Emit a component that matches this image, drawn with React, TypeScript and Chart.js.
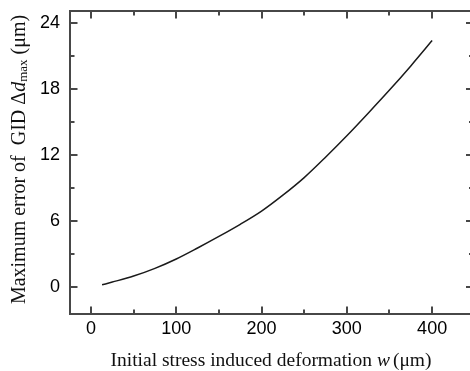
import React, { useEffect, useRef } from 'react';
import { Chart, registerables } from 'chart.js';

Chart.register(...registerables);

// Data
const wValues = [13, 25, 50, 75, 100, 125, 150, 175, 200, 225, 250, 275, 300, 325, 350, 375, 400];
const errorValues = [0.2, 0.45, 1.0, 1.7, 2.55, 3.55, 4.6, 5.7, 6.9, 8.35, 9.95, 11.8, 13.75, 15.8, 17.9, 20.1, 22.4];

const xTicks = [0, 100, 200, 300, 400];
const xMinorTicks = [50, 150, 250, 350];
const yTicks = [0, 6, 12, 18, 24];
const yMinorTicks = [3, 9, 15, 21];

const xTitleParts = [
  { text: 'Initial stress induced deformation ', italic: false },
  { text: 'w', italic: true },
  { text: '(μm)', italic: false, gap: 3 },
];
const yTitleParts = [
  { text: 'Maximum error of  GID Δ', italic: false },
  { text: 'd', italic: true },
  { text: 'max', italic: false, sub: true },
  { text: ' (μm)', italic: false },
];

const FRAME = '#474747';
const SERIF = '"Liberation Serif", "Times New Roman", serif';
const SANS = '"Liberation Sans", Arial, sans-serif';

function drawParts(ctx: CanvasRenderingContext2D, parts: any[], cx: number, baseline: number, size: number, subSize: number) {
  const fontFor = (p: any) =>
    `${p.italic ? 'italic ' : ''}${p.sub ? subSize : size}px ${SERIF}`;
  let total = 0;
  const widths = parts.map((p) => {
    ctx.font = fontFor(p);
    const w = ctx.measureText(p.text).width + (p.gap || 0);
    total += w;
    return w;
  });
  let x = cx - total / 2;
  ctx.fillStyle = '#111';
  ctx.textAlign = 'left';
  ctx.textBaseline = 'alphabetic';
  parts.forEach((p, i) => {
    ctx.font = fontFor(p);
    ctx.fillText(p.text, x + (p.gap || 0), baseline + (p.sub ? 2 : 0));
    x += widths[i];
  });
}

const framePlugin = {
  id: 'frameTicksTitles',
  afterDraw(chart: any) {
    const { ctx, chartArea, scales } = chart;
    const { left, right, top, bottom } = chartArea;
    const xs = scales.x;
    const ys = scales.y;
    const rightEdge = right + 3.5;
    ctx.save();
    ctx.strokeStyle = FRAME;
    ctx.lineWidth = 2;
    ctx.beginPath();
    ctx.moveTo(rightEdge, top);
    ctx.lineTo(left, top);
    ctx.lineTo(left, bottom);
    ctx.lineTo(rightEdge, bottom);
    ctx.stroke();

    const xTick = (v: number, len: number) => {
      const px = Math.round(xs.getPixelForValue(v));
      ctx.beginPath();
      ctx.moveTo(px, bottom);
      ctx.lineTo(px, bottom - len);
      ctx.moveTo(px, top);
      ctx.lineTo(px, top + len);
      ctx.stroke();
    };
    const yTick = (v: number, len: number) => {
      const py = Math.round(ys.getPixelForValue(v));
      ctx.beginPath();
      ctx.moveTo(left, py);
      ctx.lineTo(left + len, py);
      ctx.moveTo(rightEdge, py);
      ctx.lineTo(rightEdge - len, py);
      ctx.stroke();
    };
    xTicks.forEach((v) => xTick(v, 7.5));
    xMinorTicks.forEach((v) => xTick(v, 4.5));
    yTicks.forEach((v) => yTick(v, 7.5));
    yMinorTicks.forEach((v) => yTick(v, 4.5));

    // axis titles
    drawParts(ctx, xTitleParts, (left + right) / 2 + 1, 366, 19.5, 12);
    ctx.save();
    ctx.translate(25, (top + bottom) / 2 - 3);
    ctx.rotate(-Math.PI / 2);
    drawParts(ctx, yTitleParts, 0, 0, 20, 13);
    ctx.restore();
    ctx.restore();
  },
};

export default function App() {
  const canvasRef = useRef<HTMLCanvasElement | null>(null);

  useEffect(() => {
    if (!canvasRef.current) return;
    const points = wValues.map((w, i) => ({ x: w, y: errorValues[i] }));
    const chart = new Chart(canvasRef.current, {
      type: 'line',
      data: {
        datasets: [
          {
            data: points,
            borderColor: '#1a1a1a',
            borderWidth: 1.5,
            pointRadius: 0,
            cubicInterpolationMode: 'monotone',
            fill: false,
          },
        ],
      },
      options: {
        responsive: false,
        animation: false,
        events: [],
        layout: { padding: { left: 0, right: 0, top: 11, bottom: 0 } },
        plugins: {
          legend: { display: false },
          tooltip: { enabled: false },
        },
        scales: {
          x: {
            type: 'linear',
            min: -24.6,
            max: 444.4,
            grid: { display: false, drawTicks: false },
            border: { display: false },
            ticks: {
              padding: 4,
              color: '#000',
              font: { family: SANS, size: 18 },
              maxRotation: 0,
              autoSkip: false,
            },
            afterBuildTicks: (scale: any) => {
              scale.ticks = xTicks.map((v) => ({ value: v }));
            },
            afterFit: (scale: any) => {
              scale.height = 57;
              scale.paddingLeft = 0;
              scale.paddingRight = 0;
            },
          },
          y: {
            type: 'linear',
            min: -2.45,
            max: 25.09,
            grid: { display: false, drawTicks: false },
            border: { display: false },
            ticks: {
              padding: 10,
              color: '#000',
              font: { family: SANS, size: 18 },
              autoSkip: false,
            },
            afterBuildTicks: (scale: any) => {
              scale.ticks = yTicks.map((v) => ({ value: v }));
            },
            afterFit: (scale: any) => {
              scale.width = 70;
              scale.paddingTop = 0;
              scale.paddingBottom = 0;
            },
          },
        },
      },
      plugins: [framePlugin],
    } as any);
    return () => chart.destroy();
  }, []);

  return (
    <div style={{ position: 'fixed', left: 0, top: 0, width: 470, height: 371, background: '#fff' }}>
      <canvas ref={canvasRef} width={470} height={371} style={{ display: 'block', width: 470, height: 371 }} />
    </div>
  );
}
